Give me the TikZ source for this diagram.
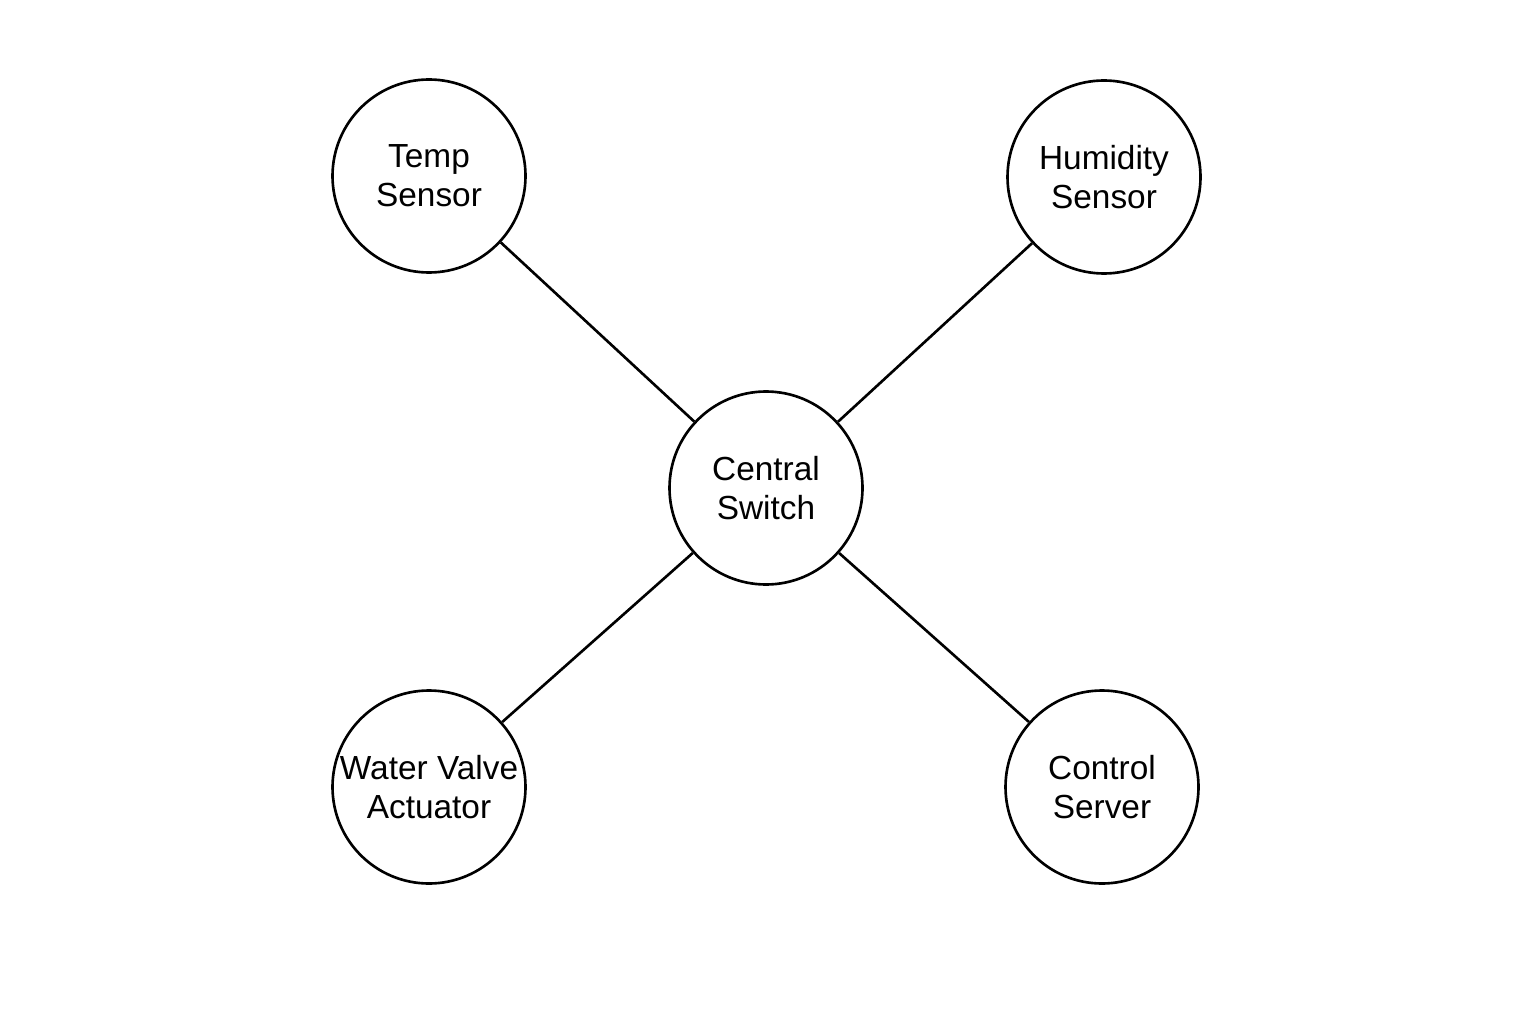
\documentclass[tikz,border=0pt]{standalone}
\usepackage{fontspec}
\setmainfont{Liberation Sans}
\usepackage{tikz}
\begin{document}
\begin{tikzpicture}[dev/.style={circle,draw,line width=0.75pt,minimum size=1.93cm,inner sep=0pt,align=center,font=\fontsize{9.5}{11}\selectfont}]
\useasboundingbox (0,0) rectangle (15.36,10.24);
\node[dev] (cs) at (7.66,5.36) {Central\\Switch};
\node[dev] (ts) at (4.29,8.48) {Temp\\Sensor};
\node[dev] (hs) at (11.04,8.47) {Humidity\\Sensor};
\node[dev] (wv) at (4.29,2.37) {Water Valve\\Actuator};
\node[dev] (cc) at (11.02,2.37) {Control\\Server};
\draw[line width=0.75pt] (cs) -- (ts);
\draw[line width=0.75pt] (cs) -- (hs);
\draw[line width=0.75pt] (cs) -- (wv);
\draw[line width=0.75pt] (cs) -- (cc);
\end{tikzpicture}
\end{document}
